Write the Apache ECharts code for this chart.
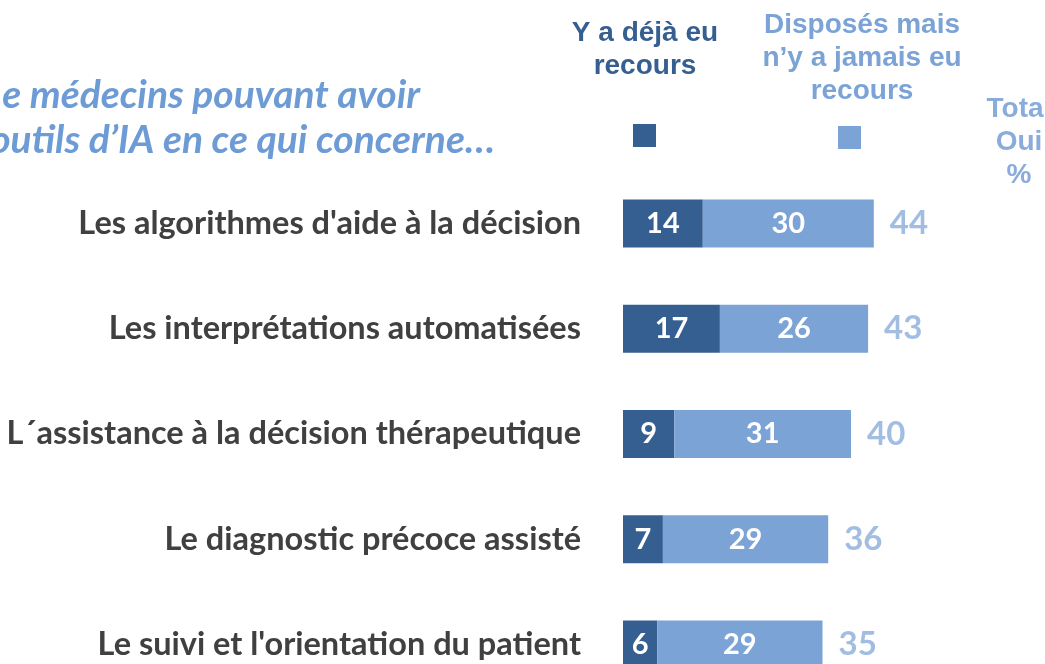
<!DOCTYPE html>
<html>
<head>
<meta charset="utf-8">
<script src="https://cdn.jsdelivr.net/npm/echarts@6/dist/echarts.min.js"></script>
<style>
  html, body { margin: 0; padding: 0; background: #fff; }
  #chart { width: 1045px; height: 664px; }
</style>
</head>
<body>
<div id="chart"></div>
<script>
const categories = [
    "Les algorithmes d'aide à la décision",
    "Les interprétations automatisées",
    "L´assistance à la décision thérapeutique",
    "Le diagnostic précoce assisté",
    "Le suivi et l'orientation du patient"
];
const dejaRecours = [14, 17, 9, 7, 6];
const jamaisRecours = [30, 26, 31, 29, 29];
const totalOui = [44, 43, 40, 36, 35];

const darkBlue = '#365F91';
const lightBlue = '#7BA3D6';
const totalBlue = '#89ACDB';
const titleBlue = '#6D9BD5';
const font = 'Lato';

const chartDom = document.getElementById('chart');
const myChart = echarts.init(chartDom);

const header = (x, y, text, color) => ({
    type: 'text',
    x,
    y,
    style: {
        text,
        fill: color,
        font: 'bold 28px "Liberation Sans", Arial',
        align: 'center',
        verticalAlign: 'middle',
        lineHeight: 33
    }
});

const option = {
    animation: false,
    grid: {
        left: 623,
        right: 80,
        top: 171,
        height: 526,
        outerBoundsMode: 'none'
    },
    legend: [
        {
            left: 633,
            top: 124,
            padding: 0,
            itemWidth: 23,
            itemHeight: 23,
            icon: 'rect',
            data: ['Y a déjà eu recours'],
            formatter: () => '',
            selectedMode: false
        },
        {
            left: 838,
            top: 126,
            padding: 0,
            itemWidth: 23,
            itemHeight: 23,
            icon: 'rect',
            data: ['Disposés mais n’y a jamais eu recours'],
            formatter: () => '',
            selectedMode: false
        }
    ],
    graphic: [
        {
            type: 'text',
            x: 420,
            y: 95,
            style: {
                text: 'e médecins pouvant avoir',
                fill: titleBlue,
                font: 'italic bold 39px ' + font,
                align: 'right',
                verticalAlign: 'middle'
            }
        },
        {
            type: 'text',
            x: 495,
            y: 140,
            style: {
                text: 'outils d’IA en ce qui concerne…',
                fill: titleBlue,
                font: 'italic bold 39px ' + font,
                align: 'right',
                verticalAlign: 'middle'
            }
        },
        header(645, 50, 'Y a déjà eu\nrecours', darkBlue),
        header(862, 58, 'Disposés mais\nn’y a jamais eu\nrecours', lightBlue),
        header(1019, 142, 'Total\nOui\n%', totalBlue)
    ],
    xAxis: {
        type: 'value',
        min: 0,
        max: 60,
        show: false
    },
    yAxis: {
        type: 'category',
        inverse: true,
        data: categories,
        axisLine: { show: false },
        axisTick: { show: false },
        axisLabel: {
            margin: 42,
            color: '#404040',
            fontFamily: font,
            fontWeight: 'bold',
            fontSize: 32.5
        }
    },
    series: [
        {
            name: 'Y a déjà eu recours',
            type: 'bar',
            stack: 'total',
            barWidth: 48,
            itemStyle: { color: darkBlue },
            label: {
                show: true,
                position: 'inside',
                color: '#fff',
                fontFamily: font,
                fontWeight: 'bold',
                fontSize: 29
            },
            data: dejaRecours
        },
        {
            name: 'Disposés mais n’y a jamais eu recours',
            type: 'bar',
            stack: 'total',
            barWidth: 48,
            itemStyle: { color: lightBlue },
            label: {
                show: true,
                position: 'inside',
                color: '#fff',
                fontFamily: font,
                fontWeight: 'bold',
                fontSize: 29
            },
            data: jamaisRecours
        },
        {
            name: 'Total Oui',
            type: 'scatter',
            symbolSize: 0,
            silent: true,
            label: {
                show: true,
                position: 'right',
                distance: 16,
                formatter: (p) => p.value[0],
                color: totalBlue,
                fontFamily: font,
                fontWeight: 'bold',
                fontSize: 33
            },
            data: totalOui.map((v, i) => [v, i])
        }
    ]
};

myChart.setOption(option);
</script>
</body>
</html>
